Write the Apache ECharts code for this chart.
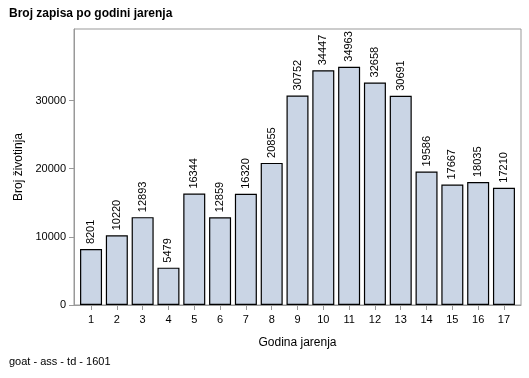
<!DOCTYPE html>
<html>
<head>
<meta charset="utf-8">
<script src="https://cdn.jsdelivr.net/npm/echarts@6/dist/echarts.min.js"></script>
<style>
    html, body { margin: 0; padding: 0; background: #fff; }
    #chart { width: 529px; height: 378px; }
</style>
</head>
<body>
<div id="chart"></div>
<script>
// godina jarenja
var godine = [1, 2, 3, 4, 5, 6, 7, 8, 9, 10, 11, 12, 13, 14, 15, 16, 17];
// broj zivotinja
var broj = [8201, 10220, 12893, 5479, 16344, 12859, 16320, 20855, 30752, 34447, 34963, 32658, 30691, 19586, 17667, 18035, 17210];
var yTicks = [0, 10000, 20000, 30000];

var chart = echarts.init(document.getElementById('chart'));

var data = [];
for (var i = 0; i < godine.length; i++) {
    data.push([godine[i], broj[i]]);
}

var font = 'Liberation Sans, Arial, sans-serif';

var option = {
    animation: false,
    textStyle: { fontFamily: font },
    graphic: [
        {
            type: 'text', left: 9, top: 8,
            style: { text: 'Broj zapisa po godini jarenja', font: 'bold 12px ' + font, fill: '#000' }
        },
        {
            type: 'text', left: 9, top: 356,
            style: { text: 'goat - ass - td - 1601', font: '11px ' + font, fill: '#000' }
        }
    ],
    grid: {
        left: 74, right: 8, top: 29, bottom: 73,
        show: true, borderColor: '#999', borderWidth: 1
    },
    xAxis: {
        type: 'value',
        min: 0.34,
        max: 17.66,
        name: 'Godina jarenja',
        nameLocation: 'middle',
        nameGap: 32,
        nameTextStyle: { fontSize: 12, color: '#000', fontFamily: font },
        axisLine: { show: true, lineStyle: { color: '#999' } },
        axisTick: { show: true, length: 5, customValues: godine, lineStyle: { color: '#999' } },
        splitLine: { show: false },
        axisLabel: {
            color: '#000', fontSize: 11, margin: 9, fontFamily: font,
            customValues: godine
        }
    },
    yAxis: {
        type: 'value',
        min: 0,
        max: 40500,
        name: 'Broj životinja',
        nameLocation: 'middle',
        nameGap: 49,
        nameTextStyle: { fontSize: 12, color: '#000', fontFamily: font },
        axisLine: { show: true, lineStyle: { color: '#999' } },
        axisTick: { show: true, length: 5, customValues: yTicks, lineStyle: { color: '#999' } },
        splitLine: { show: false },
        axisLabel: {
            color: '#000', fontSize: 11, margin: 8, fontFamily: font,
            customValues: yTicks,
            formatter: function (v) { return String(v); }
        }
    },
    series: [{
        type: 'bar',
        data: data,
        barWidth: 22,
        itemStyle: { color: '#CAD5E5', borderColor: '#000', borderWidth: 1.2 },
        label: {
            show: true,
            position: 'top',
            rotate: 90,
            align: 'left',
            verticalAlign: 'middle',
            distance: 5,
            color: '#000',
            fontSize: 11,
            fontFamily: font,
            formatter: function (p) { return String(p.value[1]); }
        }
    }]
};

chart.setOption(option);
</script>
</body>
</html>
